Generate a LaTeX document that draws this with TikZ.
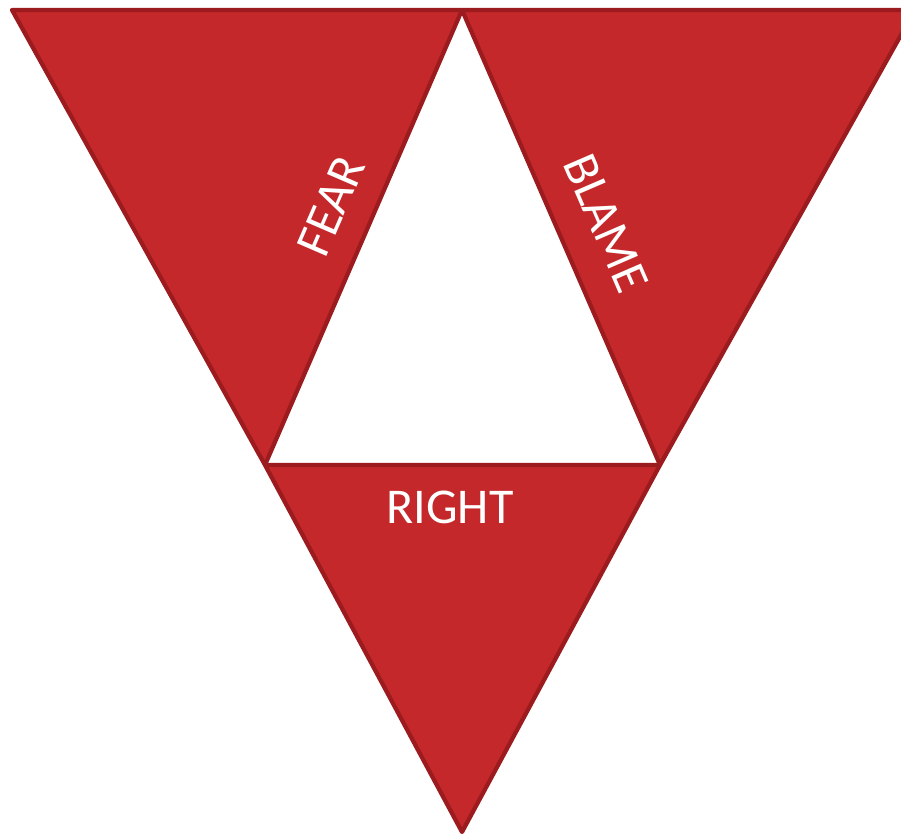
\documentclass[tikz,border=0pt]{standalone}
\usepackage{fontspec}
\setmainfont{Carlito}
\usepackage{tikz}
\usetikzlibrary{calc, positioning}
\usepackage{xcolor}
\definecolor{wedgered}{HTML}{C4282A}
\definecolor{wedgeline}{HTML}{9B1B1F}

\begin{document}
\begin{tikzpicture}[
    x=0.02cm, y=-0.02cm,
    wedge/.style={draw=wedgeline, fill=wedgered, line width=2.4pt, line join=round},
    word/.style={text=white, font=\fontsize{28.5}{34}\selectfont, inner sep=0pt}
]
    \useasboundingbox (0,0) rectangle (901,835);
    \clip (0,0) rectangle (901,835);

    % 顶点
    \coordinate (tl) at (12,10);
    \coordinate (tm) at (462,10);
    \coordinate (tr) at (915,10);
    \coordinate (ml) at (265,465);
    \coordinate (mr) at (660,465);
    \coordinate (bot) at (462,832);

    % 三个三角形
    \draw[wedge] (tl) -- (tm) -- (ml) -- cycle;
    \draw[wedge] (tm) -- (tr) -- (mr) -- cycle;
    \draw[wedge] (ml) -- (mr) -- (bot) -- cycle;

    % 文字
    \node[word, rotate=66.6] (fear) at (331,206) {FEAR};
    \node[word, rotate=-66.6] (blame) at (606,223) {BLAME};
    \node[word] (right) at (450,507) {RIGHT};
\end{tikzpicture}
\end{document}
